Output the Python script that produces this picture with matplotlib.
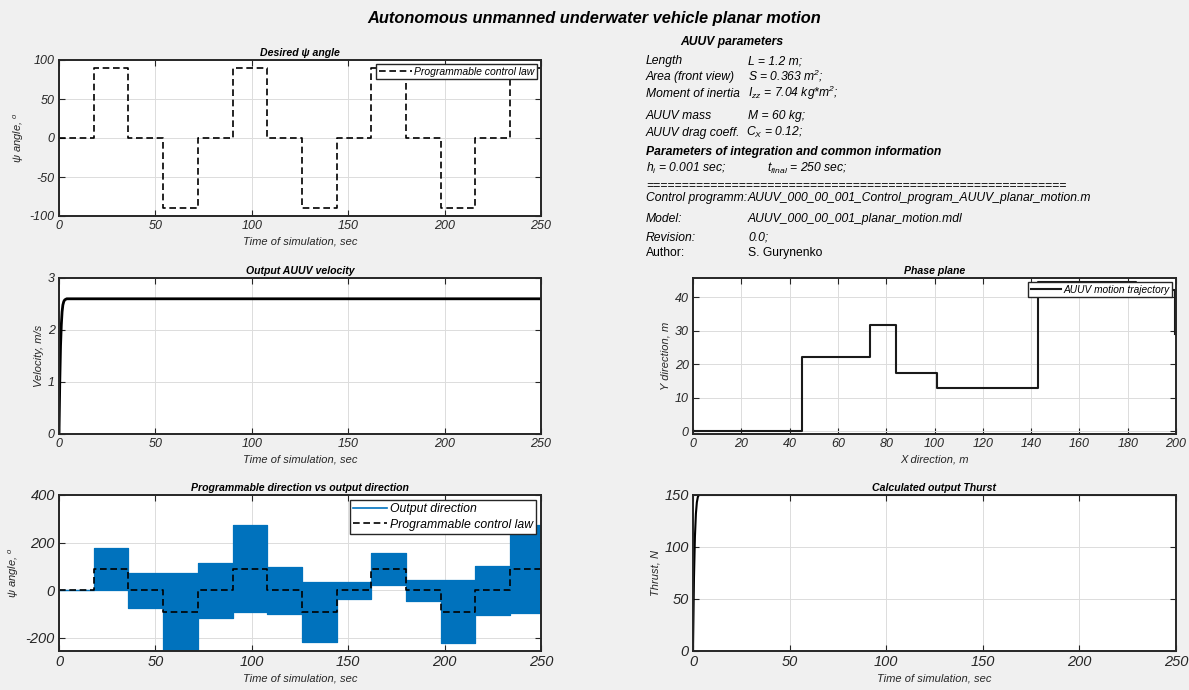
import matplotlib
matplotlib.use("Agg")
import matplotlib.pyplot as plt
from matplotlib.lines import Line2D

plt.rcParams["font.family"] = ["Liberation Sans", "DejaVu Sans"]
plt.rcParams["font.style"] = "italic"
plt.rcParams["axes.unicode_minus"] = False
plt.rcParams["mathtext.fontset"] = "custom"
plt.rcParams["mathtext.rm"] = "Liberation Sans:italic"
plt.rcParams["mathtext.it"] = "Liberation Sans:italic"
plt.rcParams["mathtext.bf"] = "Liberation Sans:bold:italic"

# ---- data -------------------------------------------------------------
# programmed heading law: segment boundaries (s) and commanded angle (deg)
seg_edges = [0, 18, 36, 54, 72, 90, 108, 126, 144, 162, 180, 198, 216, 234, 250]
psi_cmd = [0, 90, 0, -90, 0, 90, 0, -90, 0, 90, 0, -90, 0, 90]

# envelope of the output heading within each segment (deg)
psi_out_low = [0, 0, -75, -255, -117, -93, -100, -219, -38, 21, -45, -223, -103, -96]
psi_out_high = [0, 178, 74, 71, 113, 272, 99, 35, 35, 157, 42, 42, 102, 273]

# output velocity (m/s)
t_vel = [0, 0.4, 0.8, 1.2, 1.6, 2.0, 2.5, 3.0, 4.0, 250]
vel = [0, 1.0, 1.7, 2.1, 2.35, 2.48, 2.55, 2.58, 2.6, 2.6]

# calculated thrust (N)
t_thr = [0, 0.5, 1.0, 1.5, 2.0, 2.5, 3.0, 250]
thrust = [0, 70, 110, 132, 143, 148, 150, 150]

# planar trajectory vertices (m)
traj_x = [0, 45, 45, 73.4, 73.4, 83.9, 83.9, 101.2, 101.2, 143, 143, 183.5, 183.5, 199.5, 199.5]
traj_y = [0, 0, 22.2, 22.2, 31.9, 31.9, 17.4, 17.4, 12.8, 12.8, 44.5, 44.5, 42.3, 42.3, 29.1]

time_ticks = [0, 50, 100, 150, 200, 250]

# ---- figure -----------------------------------------------------------
W, H = 1189, 690
fig = plt.figure(figsize=(W / 100, H / 100), dpi=100, facecolor="#f0f0f0")

INK = "#262626"
BLUE = "#0072bd"
DASH = (0, (4, 2.2))


def box(x0, y0, x1, y1):
    return [x0 / W, 1 - y1 / H, (x1 - x0) / W, (y1 - y0) / H]


def style(ax, fs):
    ax.set_facecolor("white")
    ax.set_axisbelow(True)
    ax.grid(True, color="#dcdcdc", lw=0.7)
    ax.tick_params(direction="in", top=True, right=True, length=4, width=0.8,
                   colors=INK, labelsize=fs, pad=3)
    for s in ax.spines.values():
        s.set_linewidth(1.4)
        s.set_color(INK)


def titled(ax, title, xlabel, ylabel):
    ax.set_title(title, fontsize=7.6, fontweight="bold", color="black", pad=3)
    ax.set_xlabel(xlabel, fontsize=8, color=INK, labelpad=3)
    ax.set_ylabel(ylabel, fontsize=8, color=INK, labelpad=3)


def legend(ax, handles, labels, fs, hl):
    lg = ax.legend(handles, labels, loc="upper right", fontsize=fs, handlelength=hl,
                   fancybox=False, framealpha=1, edgecolor=INK, borderpad=0.25,
                   handletextpad=0.2, labelspacing=0.3, borderaxespad=0.4)
    lg.get_frame().set_linewidth(1.0)
    return lg


psi_cmd_ext = psi_cmd + [psi_cmd[-1]]

# desired heading
ax1 = fig.add_axes(box(59, 60, 541, 216))
style(ax1, 9)
l1, = ax1.step(seg_edges, psi_cmd_ext, where="post", color="black", lw=1.2, ls=DASH)
ax1.set_xlim(0, 250)
ax1.set_ylim(-100, 100)
ax1.set_xticks(time_ticks)
ax1.set_yticks([-100, -50, 0, 50, 100])
titled(ax1, "Desired ψ angle", "Time of simulation, sec", "ψ angle, $^o$")
legend(ax1, [l1], ["Programmable control law"], 7.5, 3.2)

# output velocity
ax2 = fig.add_axes(box(59, 278, 541, 434))
style(ax2, 9)
ax2.plot(t_vel, vel, color="black", lw=2.0)
ax2.set_xlim(0, 250)
ax2.set_ylim(0, 3)
ax2.set_xticks(time_ticks)
ax2.set_yticks([0, 1, 2, 3])
titled(ax2, "Output AUUV velocity", "Time of simulation, sec", "Velocity, m/s")

# programmed vs output heading
ax3 = fig.add_axes(box(59, 495, 541, 651))
style(ax3, 10.5)
low_ext = psi_out_low + [psi_out_low[-1]]
high_ext = psi_out_high + [psi_out_high[-1]]
ax3.fill_between(seg_edges, low_ext, high_ext, step="post", color=BLUE, lw=0)
ax3.step(seg_edges, low_ext, where="post", color=BLUE, lw=0.9)
ax3.step(seg_edges, high_ext, where="post", color=BLUE, lw=0.9)
l3, = ax3.step(seg_edges, psi_cmd_ext, where="post", color="black", lw=1.2, ls=DASH)
ax3.set_xlim(0, 250)
ax3.set_ylim(-255, 400)
ax3.set_xticks(time_ticks)
ax3.set_yticks([-200, 0, 200, 400])
titled(ax3, "Programmable direction vs output direction", "Time of simulation, sec",
       "ψ angle, $^o$")
legend(ax3, [Line2D([], [], color=BLUE, lw=1.2), l3],
       ["Output direction", "Programmable control law"], 8.8, 2.8)

# phase plane
ax4 = fig.add_axes(box(693, 278, 1176, 434))
style(ax4, 9)
l4, = ax4.plot(traj_x, traj_y, color="#1a1a1a", lw=1.5)
ax4.set_xlim(0, 200)
ax4.set_ylim(-0.8, 45.8)
ax4.set_xticks(range(0, 201, 20))
ax4.set_yticks([0, 10, 20, 30, 40])
titled(ax4, "Phase plane", "X direction, m", "Y direction, m")
legend(ax4, [l4], ["AUUV motion trajectory"], 7.3, 3.0)

# thrust
ax5 = fig.add_axes(box(693, 495, 1176, 651))
style(ax5, 10.5)
ax5.plot(t_thr, thrust, color="black", lw=1.5)
ax5.set_xlim(0, 250)
ax5.set_ylim(0, 150)
ax5.set_xticks(time_ticks)
ax5.set_yticks([0, 50, 100, 150])
titled(ax5, "Calculated output Thurst", "Time of simulation, sec", "Thrust, N")

# ---- heading and parameter block -------------------------------------
fig.text(0.5, 1 - 19 / H, "Autonomous unmanned underwater vehicle planar motion",
         ha="center", va="center", fontsize=11.8, fontweight="bold")

FS = 8.7
XA, XB, XT = 646 / W, 748 / W, 767 / W


def row(x, ypx, s, **kw):
    fig.text(x, 1 - ypx / H, s, ha="left", va="baseline", fontsize=FS, color="black", **kw)


row(680 / W, 45, "AUUV parameters", fontweight="bold")
params = [
    ("Length", "L = 1.2 m;", 64),
    ("Area (front view)", "S = 0.363 m$^2$;", 80),
    ("Moment of inertia", "$I_{zz}$ = 7.04 kg*m$^2$;", 97),
    ("AUUV mass", "M = 60 kg;", 119),
    ("AUUV drag coeff.", "$C_X$ = 0.12;", 136),
]
for name, val, y in params:
    row(XA, y, name)
    row(XB - 2 / W if name.startswith("AUUV drag") else XB, y, val)

row(XA, 155, "Parameters of integration and common information", fontweight="bold")
row(XA, 172, "$h_i$ = 0.001 sec;")
row(XT, 172, "$t_{final}$ = 250 sec;")
row(XA, 189, "=" * 59)
info = [
    ("Control programm:", "AUUV_000_00_001_Control_program_AUUV_planar_motion.m", 201, "italic"),
    ("Model:", "AUUV_000_00_001_planar_motion.mdl", 222, "italic"),
    ("Revision:", "0.0;", 241, "italic"),
    ("Author:", "S. Gurynenko", 256, "normal"),
]
for name, val, y, st in info:
    row(XA, y, name, fontstyle=st)
    row(XB, y, val, fontstyle=st)

fig.savefig("out.png", dpi=100, facecolor=fig.get_facecolor())
